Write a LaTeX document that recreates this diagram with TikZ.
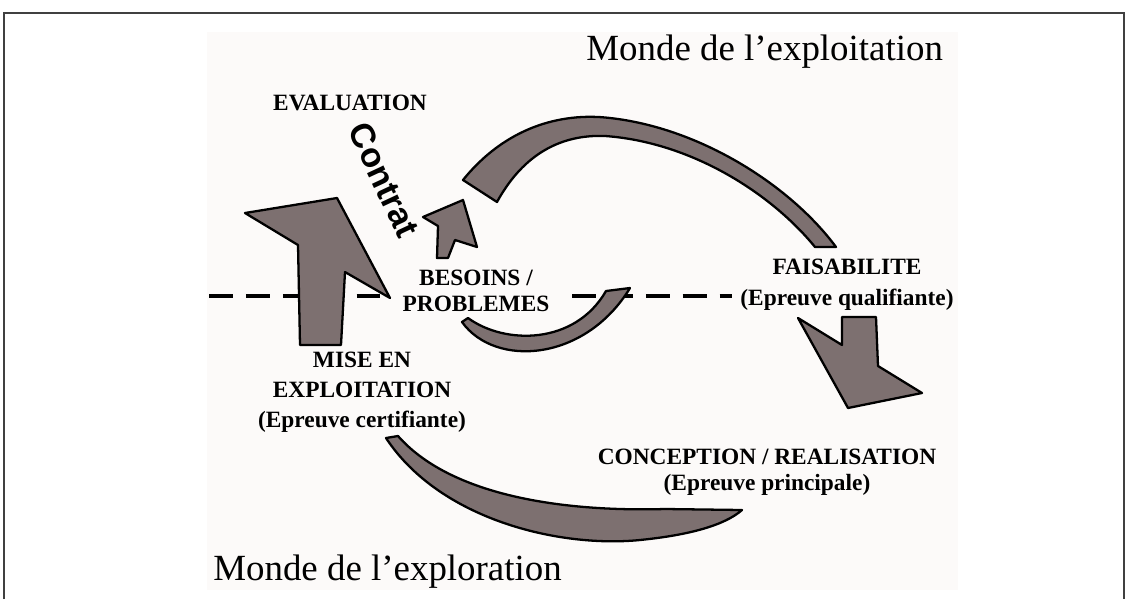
\documentclass[tikz,border=0pt]{standalone}
\usepackage{fontspec}
\setmainfont{Liberation Serif}
\newfontfamily\contratfont{Liberation Sans}
\definecolor{scangray}{RGB}{125,112,112}
\definecolor{paper}{RGB}{252,250,249}

\begin{document}
\begin{tikzpicture}[x=0.02cm,y=-0.02cm,
    lbl/.style={font=\fontsize{13.3}{16}\selectfont\bfseries,align=center,inner sep=0pt},
    monde/.style={font=\fontsize{21}{24}\selectfont,inner sep=0pt},
    fleche/.style={fill=scangray,draw=black,line width=1.3pt,line join=round},
    tirets/.style={line width=2.8pt,dash pattern=on 13.6pt off 7.4pt}]
  \useasboundingbox (0,0) rectangle (1129,599);
  \draw[line width=0.8pt,black!75] (4,599) -- (4,13) -- (1124,13) -- (1124,599);
  \fill[paper] (207,32) rectangle (958,590);
  % frontiere entre les deux mondes
  \coordinate (t1) at (209,296);
  \coordinate (t2) at (384,296);
  \coordinate (t3) at (572,296);
  \coordinate (t4) at (732,296);
  \draw[tirets] (t1) -- (t2);
  \draw[tirets] (t3) -- (t4);
  % fleches
  \draw[fleche] (300,345) -- (298,245) -- (245,213) -- (337,198) -- (390,298)
                -- (345,272) -- (341,345) -- cycle;
  \draw[fleche] (463,200) -- (477,247) -- (455,240) -- (448,258) -- (437,258)
                -- (438,226) -- (423,217) -- cycle;
  \draw[fleche] (463,180) .. controls (505,128) and (560,112) .. (610,118)
                .. controls (700,128) and (790,185) .. (836,247) -- (815,247)
                .. controls (770,192) and (690,142) .. (605,136)
                .. controls (555,134) and (520,160) .. (497,202) -- cycle;
  \draw[fleche] (462,322) .. controls (495,368) and (585,362) .. (630,288)
                -- (606,291) .. controls (575,345) and (505,345) .. (468,318) -- cycle;
  \draw[fleche] (842,317) -- (876,317) -- (878,366) -- (922,393) -- (848,408)
                -- (798,318) -- (842,345) -- cycle;
  \draw[fleche] (386,438) .. controls (440,520) and (560,548) .. (640,540)
                .. controls (690,535) and (725,525) .. (742,510) -- (665,509)
                .. controls (560,512) and (450,495) .. (398,436) -- cycle;
  % textes
  \node[monde,anchor=base west] (exploitation) at (586,60) {Monde de l’exploitation};
  \node[monde,anchor=base west] (exploration) at (213,580) {Monde de l’exploration};
  \node[lbl,anchor=base] (evaluation) at (350,110) {EVALUATION};
  \node[font=\contratfont\fontsize{19.5}{21}\selectfont\bfseries,rotate=-65,inner sep=0pt]
    (contrat) at (384,180) {Contrat};
  \node[lbl,font=\fontsize{13.3}{15}\selectfont\bfseries] (besoins) at (476,291)
    {BESOINS /\\PROBLEMES};
  \node[lbl,font=\fontsize{13.3}{17.5}\selectfont\bfseries] (faisabilite) at (847,285)
    {FAISABILITE\\(Epreuve qualifiante)};
  \node[lbl,font=\fontsize{13.3}{17}\selectfont\bfseries] (mise) at (362,392)
    {MISE EN\\EXPLOITATION\\(Epreuve certifiante)};
  \node[lbl,font=\fontsize{13.3}{15}\selectfont\bfseries] (conception) at (767,472)
    {CONCEPTION / REALISATION\\(Epreuve principale)};
\end{tikzpicture}
\end{document}
